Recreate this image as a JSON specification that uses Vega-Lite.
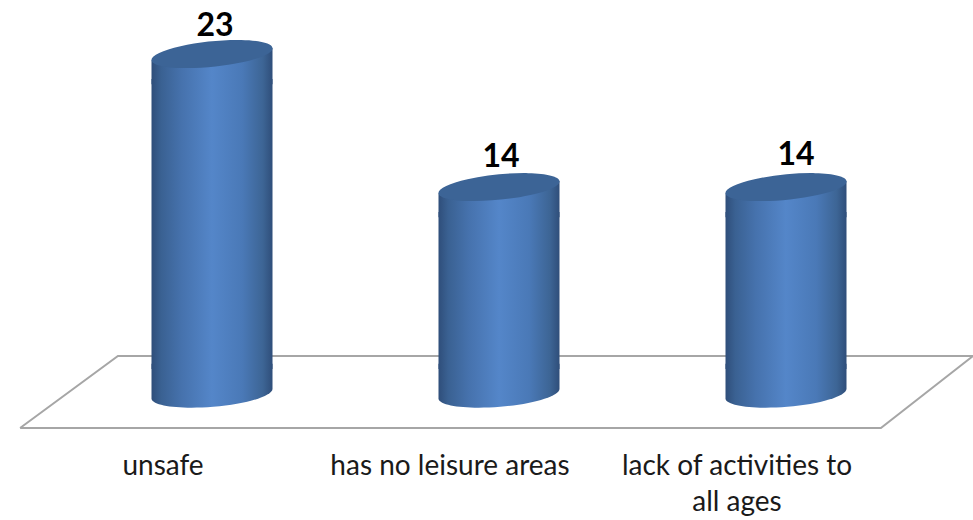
{"$schema":"https://vega.github.io/schema/vega-lite/v6.json","width":973,"height":520,"autosize":{"type":"fit","contains":"padding"},"padding":0,"background":"white","config":{"view":{"stroke":null}},"datasets":{"bars":[{"category":"unsafe","lines":["unsafe"],"value":23},{"category":"has no leisure areas","lines":["has no leisure areas"],"value":14},{"category":"lack of activities to all ages","lines":["lack of activities to","all ages"],"value":14}],"floor":[{"step":1,"fx":0.331,"fy":-2.3},{"step":2,"fx":0.672,"fy":2.57},{"step":3,"fx":3.652,"fy":2.57},{"step":4,"fx":3.331,"fy":-2.3},{"step":5,"fx":0.331,"fy":-2.3}]},"resolve":{"scale":{"x":"independent"}},"layer":[{"data":{"name":"floor"},"mark":{"type":"line","stroke":"#a6a6a6","strokeWidth":2,"clip":true},"encoding":{"x":{"field":"fx","type":"quantitative","scale":{"domain":[0.261,3.652],"nice":false,"zero":false},"axis":null},"y":{"field":"fy","type":"quantitative","scale":{"domain":[-8.525,26.66],"nice":false},"axis":null},"order":{"field":"step","type":"ordinal"}}},{"data":{"name":"bars"},"layer":[{"mark":{"type":"point","filled":true,"opacity":1,"size":14641,"shape":"M-1,-0.5 L1,-0.5 L1,-0.083 A1.004,0.22 -4.7 0 1 -1,0.083 Z","fill":{"x1":0,"x2":1,"y1":0,"y2":0,"gradient":"linear","stops":[{"offset":0,"color":"#2f4e7a"},{"offset":0.08,"color":"#3a6192"},{"offset":0.25,"color":"#4672ad"},{"offset":0.5,"color":"#5486c9"},{"offset":0.75,"color":"#4a79b7"},{"offset":0.92,"color":"#3d6595"},{"offset":1,"color":"#2f4e7a"}]}},"encoding":{"y":{"datum":0,"type":"quantitative"}}},{"mark":{"type":"bar","size":121,"yOffset":25,"y2Offset":-25,"fill":{"x1":0,"x2":1,"y1":0,"y2":0,"gradient":"linear","stops":[{"offset":0,"color":"#2f4e7a"},{"offset":0.08,"color":"#3a6192"},{"offset":0.25,"color":"#4672ad"},{"offset":0.5,"color":"#5486c9"},{"offset":0.75,"color":"#4a79b7"},{"offset":0.92,"color":"#3d6595"},{"offset":1,"color":"#2f4e7a"}]}},"encoding":{"y":{"field":"value","type":"quantitative"},"y2":{"datum":0}}},{"mark":{"type":"point","filled":true,"opacity":1,"size":14641,"shape":"M-1,0.1 L-1,0.5 L1,0.5 L1,-0.1 Z","fill":{"x1":0,"x2":1,"y1":0,"y2":0,"gradient":"linear","stops":[{"offset":0,"color":"#2f4e7a"},{"offset":0.08,"color":"#3a6192"},{"offset":0.25,"color":"#4672ad"},{"offset":0.5,"color":"#5486c9"},{"offset":0.75,"color":"#4a79b7"},{"offset":0.92,"color":"#3d6595"},{"offset":1,"color":"#2f4e7a"}]}},"encoding":{"y":{"field":"value","type":"quantitative"}}},{"mark":{"type":"point","filled":true,"opacity":1,"size":14641,"shape":"M-1,0.1 A1.005,0.209 -5.7 1 1 1,-0.1 A1.005,0.209 -5.7 1 1 -1,0.1 Z","fill":"#3c6496"},"encoding":{"y":{"field":"value","type":"quantitative"}}},{"transform":[{"filter":"datum.category === 'unsafe'"}],"mark":{"type":"text","font":"Lato","fontWeight":"bold","fontSize":32,"color":"#000000","dx":3,"dy":-28},"encoding":{"y":{"field":"value","type":"quantitative"},"text":{"field":"value","type":"quantitative"}}},{"transform":[{"filter":"datum.category === 'has no leisure areas'"}],"mark":{"type":"text","font":"Lato","fontWeight":"bold","fontSize":32,"color":"#000000","dx":2,"dy":-30},"encoding":{"y":{"field":"value","type":"quantitative"},"text":{"field":"value","type":"quantitative"}}},{"transform":[{"filter":"datum.category === 'lack of activities to all ages'"}],"mark":{"type":"text","font":"Lato","fontWeight":"bold","fontSize":32,"color":"#000000","dx":10,"dy":-32},"encoding":{"y":{"field":"value","type":"quantitative"},"text":{"field":"value","type":"quantitative"}}},{"mark":{"type":"text","font":"Lato","fontSize":28,"color":"#1a1a1a","dx":-49,"dy":73,"baseline":"middle","lineHeight":36},"encoding":{"y":{"datum":0,"type":"quantitative"},"text":{"field":"lines"}}}],"encoding":{"x":{"field":"category","type":"nominal","sort":null,"scale":{"type":"point","padding":0,"range":[212,786]},"axis":null}}}]}
